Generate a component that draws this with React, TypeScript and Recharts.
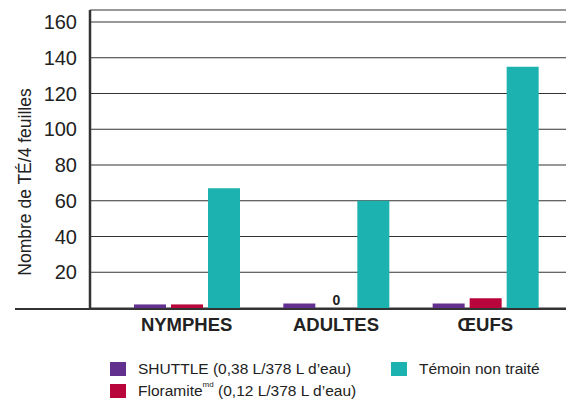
import React from 'react';
import { BarChart, Bar, XAxis, YAxis, CartesianGrid, LabelList } from 'recharts';

const categories = ['NYMPHES', 'ADULTES', 'ŒUFS'];
const shuttleValues = [2, 2.5, 2.5];
const floramiteValues = [2, 0, 5.5];
const temoinValues = [67, 60, 135];
const yTicks = [20, 40, 60, 80, 100, 120, 140, 160];

const COLORS = { shuttle: '#62318f', floramite: '#b8053b', temoin: '#1cb2b0' };
const FONT = '"Liberation Sans", Arial, sans-serif';
const BAR_SIZE = 32;
const BAR_GAP = 5;

const data = categories.map((name, i) => ({
  name,
  shuttle: shuttleValues[i],
  floramite: floramiteValues[i],
  temoin: temoinValues[i],
}));

// étiquette « 0 » pour la barre Floramite nulle, placée depuis la barre voisine
const ZeroLabel = (props: any) => {
  const { x, y, width, height, index } = props;
  if (floramiteValues[index] !== 0) return null;
  const cx = x - BAR_GAP - BAR_SIZE + width / 2;
  return (
    <text x={cx} y={y + height - 3} textAnchor="middle" fontFamily={FONT} fontSize={14} fontWeight="bold" fill="#222">
      0
    </text>
  );
};

const YTitle = (props: any) => {
  const vb = props.viewBox || {};
  const x = vb.x + 31;
  const y = vb.y + vb.height / 2 + 23;
  return (
    <text x={x} y={y} transform={`rotate(-90, ${x}, ${y})`} textAnchor="middle" fontFamily={FONT} fontSize={17.5} fill="#222">
      Nombre de TÉ/4 feuilles
    </text>
  );
};

const LegendItem = ({ color, left, top, children }: any) => (
  <div style={{ position: 'absolute', left, top, display: 'flex', alignItems: 'center', height: 20 }}>
    <span style={{ width: 16, height: 14, background: color, display: 'inline-block' }} />
    <span style={{ marginLeft: 12, fontSize: 15.5, color: '#222', whiteSpace: 'nowrap' }}>{children}</span>
  </div>
);

export default function App() {
  return (
    <div style={{ position: 'absolute', left: 0, top: 0, width: 574, height: 400, background: '#fff', fontFamily: FONT }}>
      <BarChart
        width={574}
        height={400}
        data={data}
        margin={{ top: 10, right: 8, bottom: 52, left: 0 }}
        barSize={BAR_SIZE}
        barGap={BAR_GAP}
      >
        <CartesianGrid horizontal vertical={false} stroke="#333" strokeWidth={1.2} />
        <XAxis
          dataKey="name"
          height={40}
          padding={{ left: 22, right: 6 }}
          axisLine={false}
          tickLine={false}
          tickMargin={4}
          tick={{ fontSize: 18.5, fontWeight: 'bold', fill: '#222', fontFamily: FONT }}
        />
        <YAxis
          width={90}
          domain={[0, 166.7]}
          ticks={yTicks}
          interval={0}
          axisLine={{ stroke: '#333', strokeWidth: 2.5 }}
          tickLine={false}
          tickMargin={7}
          tick={{ fontSize: 20, fill: '#222', fontFamily: FONT }}
          label={<YTitle />}
        />
        <Bar dataKey="shuttle" fill={COLORS.shuttle} isAnimationActive={false} />
        <Bar dataKey="floramite" fill={COLORS.floramite} isAnimationActive={false} />
        <Bar dataKey="temoin" fill={COLORS.temoin} isAnimationActive={false}>
          <LabelList dataKey="temoin" content={<ZeroLabel />} />
        </Bar>
      </BarChart>
      {/* axe des x prolongé vers la gauche */}
      <div style={{ position: 'absolute', left: 15, top: 307.5, width: 551, height: 2.5, background: '#333' }} />
      <LegendItem color={COLORS.shuttle} left={110} top={359}>SHUTTLE (0,38 L/378 L d’eau)</LegendItem>
      <LegendItem color={COLORS.temoin} left={391} top={359}>Témoin non traité</LegendItem>
      <LegendItem color={COLORS.floramite} left={110} top={381}>
        Floramite<sup style={{ fontSize: 8, verticalAlign: 'top', position: 'relative', top: -2 }}>md</sup> (0,12 L/378 L d’eau)
      </LegendItem>
    </div>
  );
}
